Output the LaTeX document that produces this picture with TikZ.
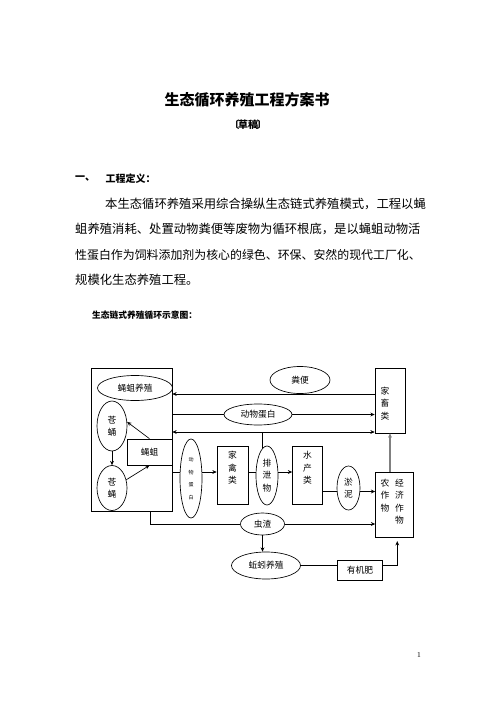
\documentclass[tikz,border=0pt]{standalone}
\usepackage{fontspec}
\setmainfont{Liberation Serif}
\newfontfamily\cjk{Noto Sans CJK SC}
\usepackage{tikz}
\usetikzlibrary{positioning,shapes.geometric,arrows.meta}
\newcommand{\pxu}{1.2pt}
\definecolor{arrowgray}{RGB}{128,128,128}

\begin{document}
\begin{tikzpicture}[x=1.2pt,y=-1.2pt,
    diag/.style={font=\cjk\fontsize{10.5}{15}\selectfont},
    ell/.style={ellipse,draw,line width=0.8pt,inner sep=0pt,align=center,diag},
    tbox/.style={rectangle,draw,line width=0.8pt,inner sep=0pt,align=center,diag},
    lbl/.style={anchor=north,inner sep=0pt,align=center,diag},
    para/.style={anchor=west,inner sep=0pt,font=\cjk\fontsize{14.8}{18}\selectfont},
    head/.style={anchor=west,inner sep=0pt,font=\cjk\bfseries\fontsize{12}{14}\selectfont},
    line/.style={line width=0.8pt},
    arr/.style={line width=0.8pt,-{Stealth[length=1.8mm,width=1.6mm]}},
    arr2/.style={line width=0.8pt,{Stealth[length=1.8mm,width=1.6mm]}-{Stealth[length=1.8mm,width=1.6mm]}}]

    \fill[white] (0,0) rectangle (496,702);
    \useasboundingbox (0,0) rectangle (496,702);

    % page text
    \node[font=\cjk\bfseries\fontsize{18}{20}\selectfont] (title) at (247,100) {生态循环养殖工程方案书};
    \node[font=\cjk\bfseries\fontsize{12}{14}\selectfont] (draft) at (248,125) {〔\kern-1.5pt草稿\kern-1.5pt〕};
    \node[head] (sec) at (75,179) {一、};
    \node[head,right=12pt of sec] (secname) {工程定义：};
    \node[para] (p1) at (105,204) {本生态循环养殖采用综合操纵生态链式养殖模式，工程以蝇};
    \node[para] (p2) at (75,229) {蛆养殖消耗、处置动物粪便等废物为循环根底，是以蝇蛆动物活};
    \node[para,font=\cjk\fontsize{14.3}{18}\selectfont] (p3) at (75,255) {性蛋白作为饲料添加剂为核心的绿色、环保、安然的现代工厂化、};
    \node[para] (p4) at (75,280) {规模化生态养殖工程。};
    \node[anchor=west,inner sep=0pt,font=\cjk\bfseries\fontsize{10.5}{12}\selectfont] (caption) at (92,315) {生态链式养殖循环示意图：};
    \node[font=\fontsize{9}{10}\selectfont] (pagenum) at (419,655) {1};

    % diagram
    \node[tbox,minimum width=81*\pxu,minimum height=143*\pxu] (larva) at (131.5,439.5) {};
    \node[ell,minimum width=75*\pxu,minimum height=25*\pxu] (breed) at (135,388) {蝇蛆养殖};
    \node[ell,minimum width=30*\pxu,minimum height=50*\pxu] (pupa) at (112,426) {苍\\蛹};
    \node[ell,minimum width=30*\pxu,minimum height=45*\pxu] (adult) at (112,488) {苍\\蝇};
    \node[tbox,minimum width=45*\pxu,minimum height=26*\pxu] (maggot) at (149.5,452) {蝇蛆};

    \node[ell,minimum width=60*\pxu,minimum height=27*\pxu] (dung) at (300,380) {粪便};
    \node[ell,minimum width=68*\pxu,minimum height=21*\pxu] (protein) at (258,414.5) {动物蛋白};
    \node[tbox,minimum width=30*\pxu,minimum height=65*\pxu,
        label={[lbl,xshift=-6pt,yshift=-23pt]north:家\\畜\\类}] (livestock) at (390,400.5) {};

    \node[ell,minimum width=22*\pxu,minimum height=79*\pxu,font=\cjk\fontsize{6}{15}\selectfont] (vprot) at (191,478.5) {动\\物\\蛋\\白};
    \node[tbox,minimum width=31*\pxu,minimum height=58*\pxu,
        label={[lbl,yshift=-6.4pt]north:家\\禽\\类}] (poultry) at (232.5,475) {};
    \node[ell,minimum width=22*\pxu,minimum height=59*\pxu] (excreta) at (267,475.5) {排\\泄\\物};
    \node[tbox,minimum width=30*\pxu,minimum height=58*\pxu,
        label={[lbl,yshift=-6.4pt]north:水\\产\\类}] (aqua) at (307.5,475) {};
    \node[ell,minimum width=23*\pxu,minimum height=44*\pxu] (mud) at (348.5,488) {淤\\泥};
    \node[tbox,minimum width=37.5*\pxu,minimum height=65.5*\pxu,
        label={[lbl,xshift=-11pt,yshift=-8.4pt]north:农\\作\\物},
        label={[lbl,xshift=6.3pt,yshift=-8.4pt]north:经\\济\\作\\物}] (crop) at (394.25,504.75) {};

    \node[ell,minimum width=44*\pxu,minimum height=22*\pxu] (residue) at (262.5,524) {虫渣};
    \node[ell,minimum width=69*\pxu,minimum height=27*\pxu] (worm) at (266,565.5) {蚯蚓养殖};
    \node[tbox,minimum width=45*\pxu,minimum height=20*\pxu] (manure) at (360,570) {有机肥};

    \coordinate (r1) at (0,394);
    \coordinate (r3) at (0,432);
    \coordinate (r4) at (0,472);
    \coordinate (r5) at (0,491.5);

    \draw[arr] (pupa.south) -- (adult.north);
    \draw[arr] (maggot.north) -- (pupa.15);
    \draw[arr] (adult.30) -- (maggot.south);

    \draw[arr] (livestock.west |- r1) -- (larva.east |- r1);
    \draw[line] (larva.east |- protein) -- (protein.west);
    \draw[arr] (protein.east) -- (livestock.west |- protein);
    \draw[arr2] (larva.east |- r3) -- (livestock.west |- r3);
    \draw[line] (excreta.99) -- (excreta.99 |- r3);

    \draw[line] (larva.east |- r4) -- (vprot.west |- r4);
    \draw[arr] (vprot.east |- r4) -- (poultry.west |- r4);
    \draw[line] (poultry.east |- r4) -- (excreta.west |- r4);
    \draw[arr] (excreta.east |- r4) -- (aqua.west |- r4);
    \draw[line] (aqua.east |- r5) -- (mud.west |- r5);
    \draw[arr] (mud.east |- r5) -- (crop.west |- r5);
    \draw[arr,arrowgray,line width=1.5pt] (crop.north -| livestock.south) -- (livestock.south);

    \draw[line] ([xshift=22.8pt]larva.south) |- (residue.west);
    \draw[arr] (residue.east) -- (crop.west |- residue);
    \draw[arr] (residue.south) -- (residue.south |- worm.north);
    \draw[line] (worm.east) -- (manure.west |- worm.east);
    \draw[arr,shorten >=4pt] (manure.east |- worm.east) -| ([xshift=3.6pt]crop.south);

\end{tikzpicture}
\end{document}
